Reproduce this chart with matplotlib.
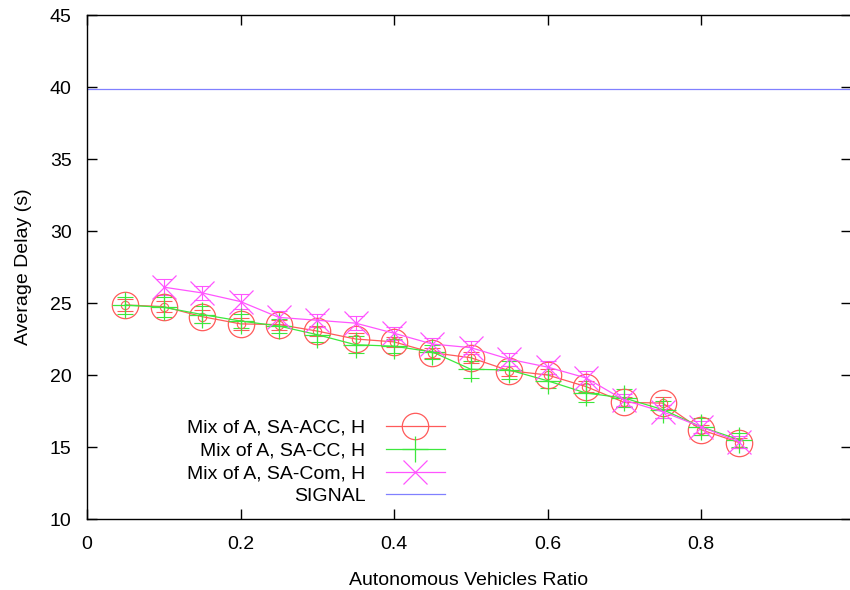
import matplotlib
matplotlib.use("Agg")
import matplotlib.pyplot as plt

plt.rcParams['font.family'] = ['Liberation Sans', 'DejaVu Sans']

# data
ratio = [0.05, 0.10, 0.15, 0.20, 0.25, 0.30, 0.35, 0.40, 0.45,
         0.50, 0.55, 0.60, 0.65, 0.70, 0.75, 0.80, 0.85]
acc_delay = [24.86, 24.75, 24.05, 23.55, 23.5, 23.05, 22.5, 22.3, 21.55,
             21.2, 20.3, 20.0, 19.2, 18.1, 18.05, 16.2, 15.3]
acc_err = [0.45, 0.4, 0.45, 0.4, 0.35, 0.35, 0.4, 0.35, 0.35,
           0.4, 0.35, 0.4, 0.4, 0.35, 0.4, 0.35, 0.35]
cc_delay = [24.85, 24.7, 24.2, 23.75, 23.4, 22.8, 22.1, 22.0, 21.6,
            20.4, 20.35, 19.6, 18.75, 18.4, 17.6, 16.4, 15.5]
cc_err = [0.6, 0.7, 0.6, 0.5, 0.5, 0.5, 0.6, 0.5, 0.5,
          0.6, 0.6, 0.5, 0.6, 0.6, 0.6, 0.6, 0.5]
com_ratio = ratio[1:]
com_delay = [26.1, 25.7, 25.1, 24.0, 23.8, 23.6, 22.9, 22.15, 21.9,
             21.1, 20.55, 19.8, 18.25, 17.45, 16.4, 15.35]
com_err = [0.55, 0.5, 0.5, 0.45, 0.45, 0.5, 0.45, 0.45, 0.45,
           0.45, 0.45, 0.45, 0.4, 0.45, 0.4, 0.4]
signal_delay = 39.85

labels = ["Mix of A, SA-ACC, H", "Mix of A, SA-CC, H", "Mix of A, SA-Com, H", "SIGNAL"]
red = '#ff5a5a'
green = '#3de83d'
magenta = '#ff55ff'
blue = '#8080ff'

fig = plt.figure(figsize=(8.5, 5.9), dpi=100)
ax = fig.add_axes([87 / 850, 71 / 590, 764 / 850, 504 / 590])

# error bars first
ax.errorbar(ratio, acc_delay, yerr=acc_err, fmt='none', ecolor=red, elinewidth=0.8, capsize=5.5, capthick=0.8)
ax.errorbar(ratio, cc_delay, yerr=cc_err, fmt='none', ecolor=green, elinewidth=0.8, capsize=5.5, capthick=0.8)
ax.errorbar(com_ratio, com_delay, yerr=com_err, fmt='none', ecolor=magenta, elinewidth=0.8, capsize=5.5, capthick=0.8)

# small inner circle of the first series
ax.plot(ratio, acc_delay, ls='none', marker='o', ms=6, mfc='none', mec=red, mew=0.8)

l1, = ax.plot(ratio, acc_delay, color=red, lw=0.9, marker='o', ms=19, mfc='none', mec=red, mew=0.9, label=labels[0])
l2, = ax.plot(ratio, cc_delay, color=green, lw=0.9, marker='+', ms=19, mec=green, mew=0.9, label=labels[1])
l3, = ax.plot(com_ratio, com_delay, color=magenta, lw=0.9, marker='x', ms=17, mec=magenta, mew=0.9, label=labels[2])
l4 = ax.axhline(signal_delay, color=blue, lw=0.9, label=labels[3])

ax.set_xlim(0, 0.9954)
ax.set_ylim(10, 45)
ax.set_xticks([0, 0.2, 0.4, 0.6, 0.8])
ax.set_xticklabels(['0', '0.2', '0.4', '0.6', '0.8'])
ax.set_yticks([10, 15, 20, 25, 30, 35, 40, 45])
ax.tick_params(direction='in', length=7, width=1, top=True, right=True, labelsize=14)
ax.tick_params(axis='x', pad=12)
ax.tick_params(axis='y', pad=11)
for s in ax.spines.values():
    s.set_linewidth(1)

ax.set_xlabel("Autonomous Vehicles Ratio", fontsize=14, labelpad=14)
ax.set_ylabel("Average Delay (s)", fontsize=14, labelpad=13)

leg = ax.legend(handles=[l1, l2, l3, l4], loc='upper right', markerfirst=False, frameon=False,
                fontsize=14, handlelength=3.05, handletextpad=1.05, labelspacing=0.27,
                borderpad=0, borderaxespad=0,
                bbox_to_anchor=(445 / 850, (590 - 419) / 590), bbox_transform=fig.transFigure)

fig.savefig("out.png", dpi=100)
